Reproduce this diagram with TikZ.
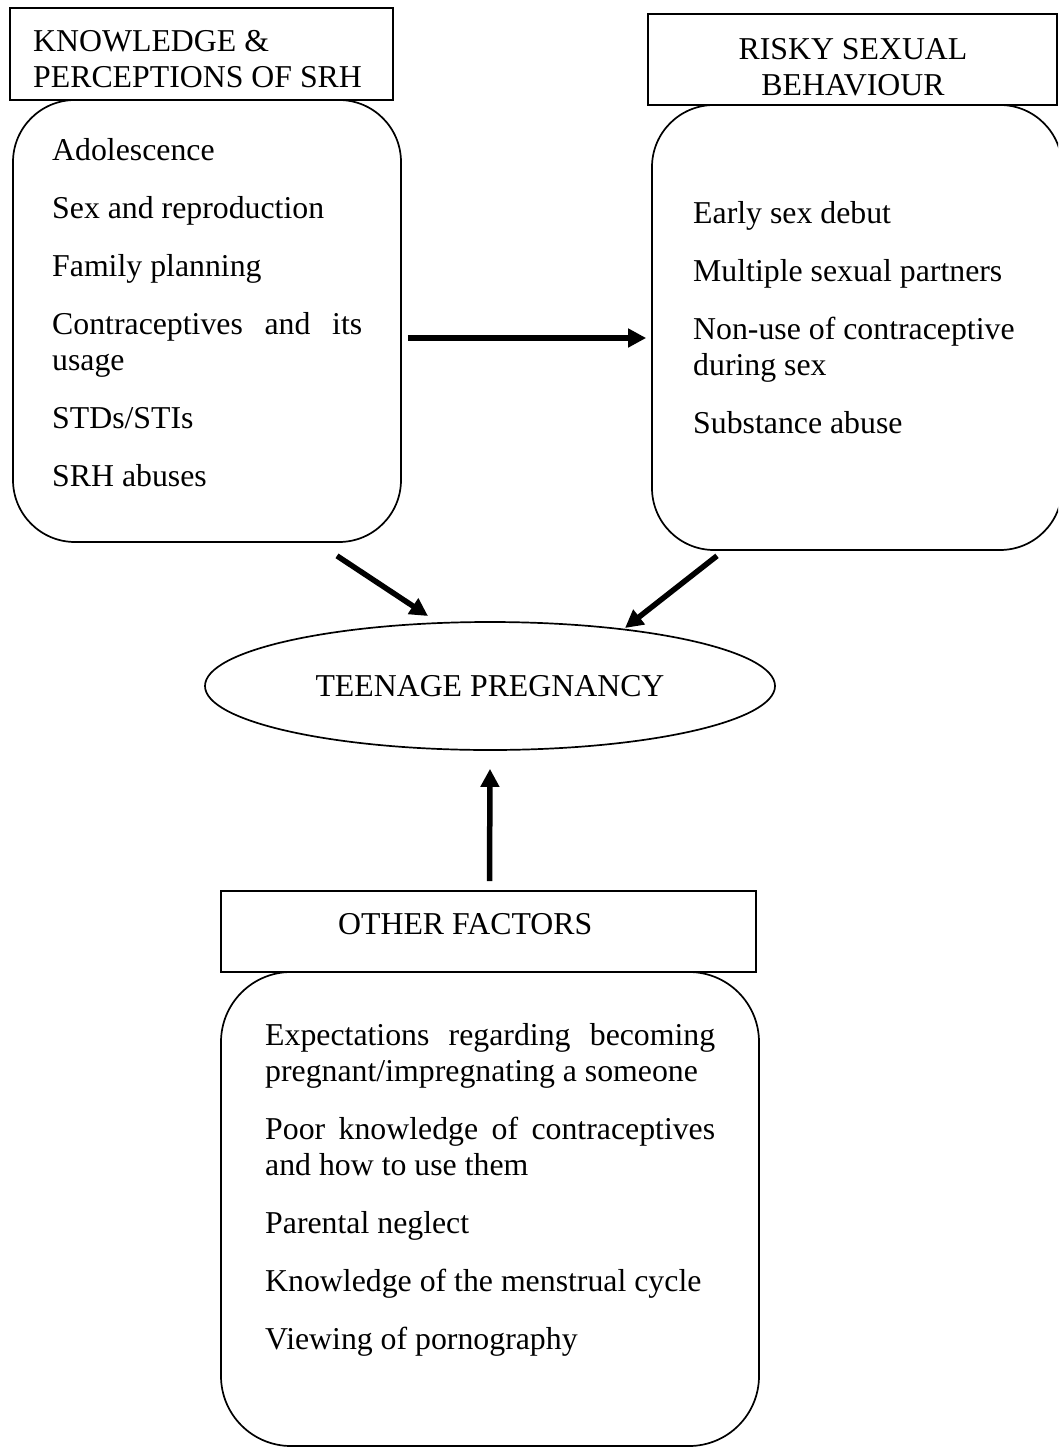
\documentclass[tikz,border=0pt]{standalone}
\usepackage{fontspec}
\setmainfont{Liberation Serif}
\usetikzlibrary{arrows.meta,shapes.geometric,calc}
\begin{document}
\begin{tikzpicture}[x=1pt,y=-1pt,
  box/.style={draw, line width=1.7pt, rounded corners=62pt, inner sep=0pt},
  hdr/.style={draw, line width=1.7pt, inner sep=0pt},
  txt/.style={font=\fontsize{31.8}{36}\selectfont, inner sep=0pt},
  lst/.style={txt, anchor=north west,
    execute at begin node={\setlength{\parskip}{22pt}\setlength{\parindent}{0pt}}},
  arr/.style={line width=5.5pt, -{Triangle[length=18pt,width=18pt]}}]
\useasboundingbox (0,0) rectangle (1058,1448);
\clip (0,0) rectangle (1058,1448);

% left group
\node[box, minimum width=388pt, minimum height=442pt] (kbox) at (207,321) {};
\node[hdr, minimum width=383pt, minimum height=92pt] (khdr) at (201.5,54) {};
\node[txt, anchor=north west, align=left] (khtxt) at (33,30) {KNOWLEDGE \&\\PERCEPTIONS OF SRH};
\node[lst, text width=310pt, align=justify] (klist) at (52,138)
  {Adolescence\par Sex and reproduction\par Family planning\par Contraceptives and its usage\par STDs/STIs\par SRH abuses};

% right group
\node[box, minimum width=410pt, minimum height=445pt] (rbox) at (857,327.5) {};
\node[hdr, minimum width=409pt, minimum height=91pt] (rhdr) at (852.5,59.5) {};
\node[txt, anchor=north, align=center] (rhtxt) at (853,38) {RISKY SEXUAL\\BEHAVIOUR};
\node[lst, text width=340pt, align=flush left] (rlist) at (693,201)
  {Early sex debut\par Multiple sexual partners\par Non-use of contraceptive during sex\par Substance abuse};

% centre
\node[draw, ellipse, line width=1.7pt, minimum width=570pt, minimum height=128pt, txt] (tp) at (490,686) {TEENAGE PREGNANCY};

% bottom group
\node[box, rounded corners=70pt, minimum width=538pt, minimum height=474pt] (obox) at (490,1209) {};
\node[hdr, minimum width=535pt, minimum height=81pt] (ohdr) at (488.5,931.5) {};
\node[txt, anchor=base west] (ohtxt) at (338,934) {OTHER FACTORS};
\node[lst, text width=450pt, align=justify] (olist) at (265,1023)
  {Expectations regarding becoming pregnant/impregnating a someone\par Poor knowledge of contraceptives and how to use them\par Parental neglect\par Knowledge of the menstrual cycle\par Viewing of pornography};

% connectors
\draw[arr] ($(kbox.east)+(6,17)$) -- ($(rbox.west)+(-5,10.5)$);
\draw[arr] ($(kbox.south)+(130,13)$) -- ($(tp.center)+(-62,-70)$);
\draw[arr] ($(rbox.south)+(-140,5)$) -- ($(tp.center)+(135,-58)$);
\draw[arr] ($(ohdr.north)+(1,-9)$) -- ($(tp.south)+(0,18)$);
\end{tikzpicture}
\end{document}
